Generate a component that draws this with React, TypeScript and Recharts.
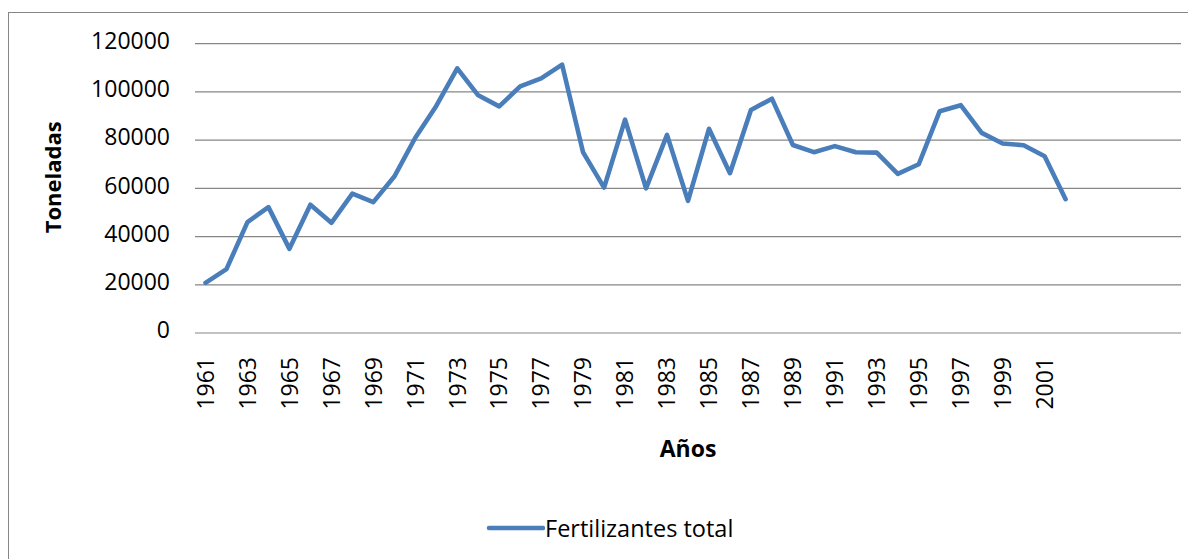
import { LineChart, Line, XAxis, YAxis, CartesianGrid, Legend, Label } from 'recharts';

const years = [
  '1961', '1962', '1963', '1964', '1965', '1966', '1967', '1968', '1969', '1970',
  '1971', '1972', '1973', '1974', '1975', '1976', '1977', '1978', '1979', '1980',
  '1981', '1982', '1983', '1984', '1985', '1986', '1987', '1988', '1989', '1990',
  '1991', '1992', '1993', '1994', '1995', '1996', '1997', '1998', '1999', '2000',
  '2001', '2002',
];

const fertilizantes = [
  20800, 26500, 46000, 52200, 34900, 53200, 45700, 57800, 54300, 64900,
  81000, 94200, 109800, 98600, 94000, 102300, 105600, 111300, 74900, 60300,
  88500, 60000, 82200, 54800, 84700, 66300, 92500, 97200, 78000, 75000,
  77500, 75000, 74800, 66000, 70000, 92000, 94500, 83000, 78600, 77900,
  73300, 55500,
];

// celdas vacías al final del rango de categorías
const emptyCategories = 5;

const yTicks = [0, 20000, 40000, 60000, 80000, 100000, 120000];

const seriesName = 'Fertilizantes total';
const lineColor = '#4a7ebb';
const gridColor = '#868686';
const font = '"Open Sans", sans-serif';
const fs = 23;

const data = [
  ...years.map((y, i) => ({ year: y, value: fertilizantes[i] })),
  ...Array.from({ length: emptyCategories }, () => ({ year: '', value: null })),
];

function YearTick({ x, y, payload }: any) {
  return (
    <g transform={`translate(${x},${y})`}>
      <text
        transform="rotate(-90)"
        x={-24}
        y={0}
        dy="0.36em"
        textAnchor="end"
        fontSize={fs}
        fontFamily={font}
        fill="#000"
      >
        {payload.value}
      </text>
    </g>
  );
}

function LegendContent() {
  return (
    <div style={{ display: 'flex', alignItems: 'flex-start', height: 26 }}>
      <svg width={59} height={26}>
        <line x1={3} y1={13} x2={57} y2={13} stroke={lineColor} strokeWidth={4.5} strokeLinecap="round" />
      </svg>
      <span style={{ fontSize: 23.5, lineHeight: '26px', fontFamily: font, color: '#000' }}>{seriesName}</span>
    </div>
  );
}

export default function App() {
  return (
    <div style={{ position: 'relative', width: 1188, height: 551, overflow: 'hidden', fontFamily: font }}>
      <div
        style={{
          position: 'absolute',
          left: 0,
          top: 4,
          width: 1300,
          height: 700,
          borderLeft: '1px solid #868686',
          borderTop: '1px solid #868686',
        }}
      />
      <LineChart
        width={1188}
        height={551}
        data={data}
        margin={{ top: 35.7, right: 15, bottom: 91, left: 0 }}
        style={{ position: 'absolute', left: 0, top: 0 }}
      >
        <CartesianGrid vertical={false} stroke={gridColor} strokeWidth={1.2} />
        <XAxis
          dataKey="year"
          type="category"
          allowDuplicatedCategory
          height={135}
          interval={1}
          padding={{ left: 10.5, right: 10.5 }}
          axisLine={false}
          tickLine={false}
          tickSize={0}
          tickMargin={0}
          tick={<YearTick />}
        >
          <Label
            content={({ viewBox }: any) => (
              <text
                x={viewBox.x + viewBox.width / 2}
                y={viewBox.y + 124}
                textAnchor="middle"
                fontSize={fs}
                fontWeight="bold"
                fontFamily={font}
                fill="#000"
              >
                Años
              </text>
            )}
          />
        </XAxis>
        <YAxis
          width={187}
          domain={[0, 120000]}
          ticks={yTicks}
          interval={0}
          axisLine={false}
          tickLine={false}
          tickSize={0}
          tickMargin={25}
          tick={{ fontSize: fs, fontFamily: font, fill: '#000', dy: -3 }}
        >
          <Label
            content={({ viewBox }: any) => {
              const cx = viewBox.x + 45;
              const cy = viewBox.y + viewBox.height / 2 - 11;
              return (
                <text
                  x={cx}
                  y={cy}
                  transform={`rotate(-90, ${cx}, ${cy})`}
                  textAnchor="middle"
                  dy="0.36em"
                  fontSize={22}
                  fontWeight="bold"
                  fontFamily={font}
                  fill="#000"
                >
                  Toneladas
                </text>
              );
            }}
          />
        </YAxis>
        <Legend
          layout="horizontal"
          verticalAlign="middle"
          align="center"
          content={<LegendContent />}
          wrapperStyle={{ position: 'absolute', left: 478, top: 507, width: 'auto' }}
        />
        <Line
          type="linear"
          dataKey="value"
          name={seriesName}
          stroke={lineColor}
          strokeWidth={4.6}
          strokeLinejoin="round"
          strokeLinecap="round"
          dot={false}
          activeDot={false}
          connectNulls={false}
          isAnimationActive={false}
        />
      </LineChart>
    </div>
  );
}
